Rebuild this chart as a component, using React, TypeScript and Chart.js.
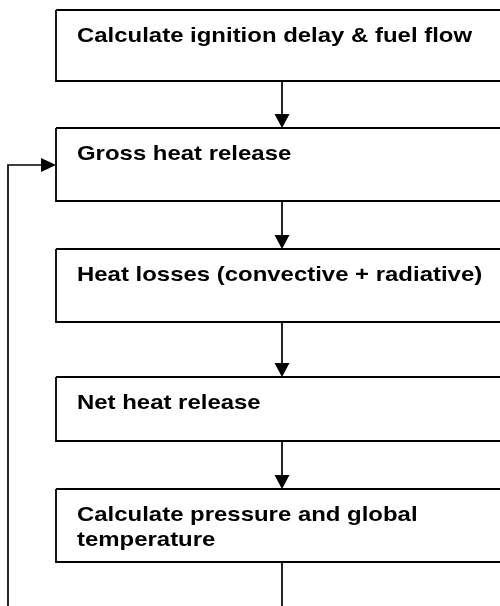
import React, { useEffect, useRef } from "react";
import { Chart, registerables } from "chart.js";

Chart.register(...registerables);

// Flowchart content
const stepLabels: string[][] = [
  ["Calculate ignition delay & fuel flow"],
  ["Gross heat release"],
  ["Heat losses (convective + radiative)"],
  ["Net heat release"],
  ["Calculate pressure and global", "temperature"],
];
const stepTop = [10, 128, 249, 377, 489];
const stepBottom = [81, 201, 322, 441, 562];
const boxLeft = 56;
const boxRight = 506;
const flowX = 282;
const loopX = 8;
const loopY = 165;
const canvasBottom = 612;

const W = 500;
const H = 606;

export default function App() {
  const ref = useRef<HTMLCanvasElement | null>(null);

  useEffect(() => {
    const canvas = ref.current;
    if (!canvas) return;

    const lineDs = (pts: { x: number; y: number }[], width = 1.7) => ({
      data: pts,
      showLine: true,
      borderColor: "#000",
      borderWidth: width,
      pointRadius: 0,
      fill: false,
      clip: false as any,
      tension: 0,
    });

    const datasets: any[] = [];
    // boxes
    stepLabels.forEach((_, i) => {
      datasets.push(
        lineDs(
          [
            { x: boxLeft, y: stepTop[i] },
            { x: boxRight, y: stepTop[i] },
            { x: boxRight, y: stepBottom[i] },
            { x: boxLeft, y: stepBottom[i] },
            { x: boxLeft, y: stepTop[i] },
          ],
          1.8
        )
      );
    });
    // connectors between boxes
    for (let i = 0; i < stepLabels.length - 1; i++) {
      datasets.push(
        lineDs([
          { x: flowX, y: stepBottom[i] },
          { x: flowX, y: stepTop[i + 1] - 8 },
        ])
      );
    }
    // connector out of last box
    datasets.push(
      lineDs([
        { x: flowX, y: stepBottom[stepBottom.length - 1] },
        { x: flowX, y: canvasBottom },
      ])
    );
    // feedback loop
    datasets.push(
      lineDs([
        { x: loopX, y: canvasBottom },
        { x: loopX, y: loopY },
        { x: boxLeft - 8, y: loopY },
      ])
    );

    const flowPlugin = {
      id: "flowDecor",
      afterDatasetsDraw(chart: any) {
        const ctx = chart.ctx as CanvasRenderingContext2D;
        const xs = chart.scales.x;
        const ys = chart.scales.y;
        const px = (v: number) => xs.getPixelForValue(v);
        const py = (v: number) => ys.getPixelForValue(v);
        ctx.save();
        ctx.fillStyle = "#000";
        // down arrowheads
        for (let i = 1; i < stepTop.length; i++) {
          const tx = px(flowX);
          const ty = py(stepTop[i]);
          ctx.beginPath();
          ctx.moveTo(tx, ty);
          ctx.lineTo(tx - 7.5, ty - 14);
          ctx.lineTo(tx + 7.5, ty - 14);
          ctx.closePath();
          ctx.fill();
        }
        // loop arrowhead (pointing right)
        {
          const tx = px(boxLeft);
          const ty = py(loopY);
          ctx.beginPath();
          ctx.moveTo(tx, ty);
          ctx.lineTo(tx - 15, ty - 7);
          ctx.lineTo(tx - 15, ty + 7);
          ctx.closePath();
          ctx.fill();
        }
        // labels
        ctx.font = 'bold 21px "Liberation Sans", Arial, sans-serif';
        ctx.textBaseline = "alphabetic";
        ctx.textAlign = "left";
        stepLabels.forEach((lines, i) => {
          lines.forEach((t, j) => {
            ctx.save();
            ctx.translate(px(boxLeft + 21), py(stepTop[i] + 32 + j * 25));
            ctx.scale(1.14, 1);
            ctx.fillText(t, 0, 0);
            ctx.restore();
          });
        });
        ctx.restore();
      },
    };

    const chart = new Chart(canvas, {
      type: "scatter",
      data: { datasets },
      options: {
        animation: false,
        responsive: false,
        maintainAspectRatio: false,
        layout: { padding: 0 },
        plugins: {
          legend: { display: false },
          tooltip: { enabled: false },
          title: { display: false },
        },
        scales: {
          x: { type: "linear", min: 0, max: W, display: false },
          y: { type: "linear", min: 0, max: H, reverse: true, display: false },
        },
      },
      plugins: [flowPlugin],
    });
    return () => chart.destroy();
  }, []);

  return (
    <div style={{ position: "fixed", left: 0, top: 0, width: W, height: H, background: "#fff" }}>
      <canvas ref={ref} width={W} height={H} style={{ display: "block", width: W, height: H }} />
    </div>
  );
}
